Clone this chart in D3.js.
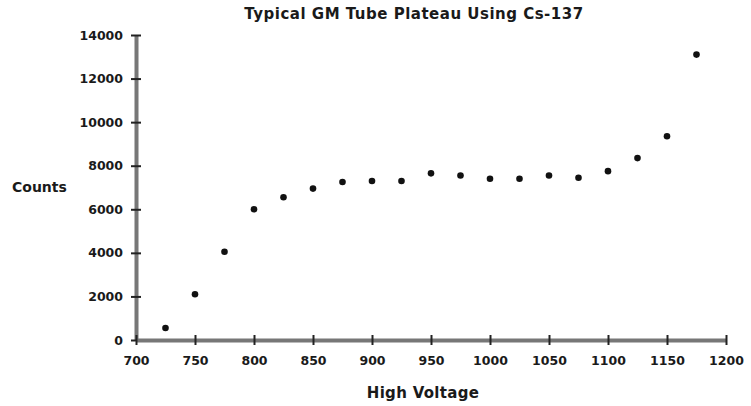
<!DOCTYPE html>
<html>
<head>
<meta charset="utf-8">
<script src="https://cdn.jsdelivr.net/npm/d3@7"></script>
<style>
  body { margin: 0; background: #fff; }
  text { font-family: "DejaVu Sans", Verdana, sans-serif; font-weight: bold; fill: #1a1a1a; }
</style>
</head>
<body>
<div id="chart"></div>
<script>
// data
var voltages = [725, 750, 775, 800, 825, 850, 875, 900, 925, 950, 975, 1000, 1025, 1050, 1075, 1100, 1125, 1150, 1175];
var counts = [550, 2100, 4050, 6000, 6550, 6950, 7250, 7300, 7300, 7650, 7550, 7400, 7400, 7550, 7450, 7750, 8350, 9350, 13100];
var xTicks = [700, 750, 800, 850, 900, 950, 1000, 1050, 1100, 1150, 1200];
var yTicks = [0, 2000, 4000, 6000, 8000, 10000, 12000, 14000];

var width = 751, height = 406;
var margin = {top: 35, right: 25, bottom: 66, left: 136};

var svg = d3.select("#chart").append("svg")
    .attr("width", width)
    .attr("height", height);

// scales
var x = d3.scaleLinear().domain([700, 1200]).range([margin.left, 726]);
var y = d3.scaleLinear().domain([0, 14000]).range([340, margin.top]);

// y axis
var yAxis = svg.append("g")
    .attr("transform", "translate(" + margin.left + ",0)")
    .call(d3.axisLeft(y).tickValues(yTicks).tickSize(5).tickSizeOuter(0).tickFormat(d3.format("d")));
yAxis.select(".domain").attr("stroke", "#777").attr("stroke-width", 4);
yAxis.selectAll(".tick line").attr("stroke", "#222").attr("stroke-width", 2).attr("x2", 5).attr("x1", -5);
yAxis.selectAll(".tick text").attr("x", -13).style("font-size", "12.5px");

// x axis
var xAxis = svg.append("g")
    .attr("transform", "translate(0,340)")
    .call(d3.axisBottom(x).tickValues(xTicks).tickSize(5).tickSizeOuter(0).tickFormat(d3.format("d")));
xAxis.select(".domain").attr("stroke", "#777").attr("stroke-width", 4);
xAxis.selectAll(".tick line").attr("stroke", "#222").attr("stroke-width", 2).attr("y1", -5).attr("y2", 5);
xAxis.selectAll(".tick text").attr("y", 16).style("font-size", "12.5px");

// points
svg.selectAll("circle.pt")
    .data(voltages)
    .enter()
    .append("circle")
    .attr("class", "pt")
    .attr("cx", function(d) { return x(d); })
    .attr("cy", function(d, i) { return y(counts[i]); })
    .attr("r", 3.3)
    .attr("fill", "#111");

// title and axis labels
svg.append("text")
    .attr("x", 414).attr("y", 19)
    .attr("text-anchor", "middle")
    .style("font-size", "15px")
    .style("letter-spacing", "0.5px")
    .text("Typical GM Tube Plateau Using Cs-137");

svg.append("text")
    .attr("x", 12).attr("y", 192)
    .style("font-size", "14px")
    .text("Counts");

svg.append("text")
    .attr("x", 423).attr("y", 398)
    .attr("text-anchor", "middle")
    .style("font-size", "15px")
    .style("letter-spacing", "0.3px")
    .text("High Voltage");
</script>
</body>
</html>
